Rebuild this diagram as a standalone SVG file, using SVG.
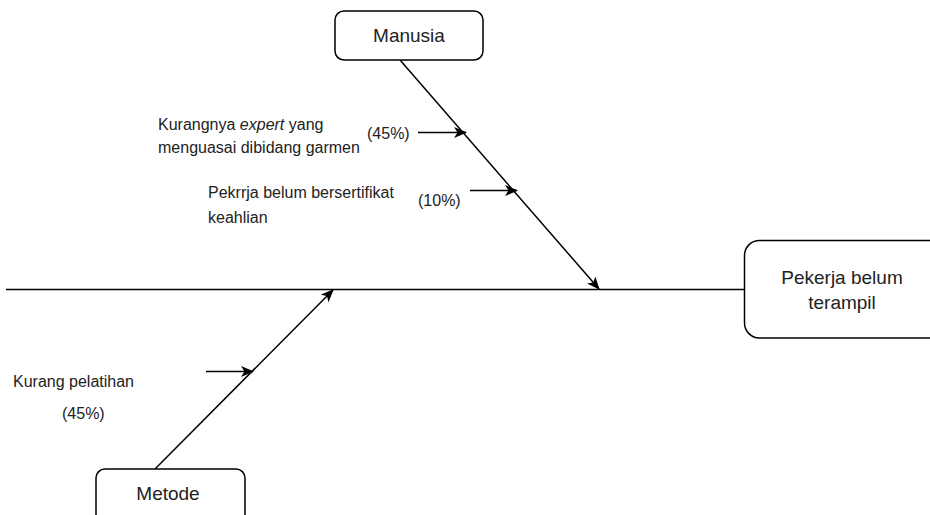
<svg xmlns="http://www.w3.org/2000/svg" width="930" height="515" viewBox="0 0 930 515">
  <defs>
    <marker id="arrow" viewBox="0 0 13 11" refX="12" refY="5.5" markerWidth="13" markerHeight="11" markerUnits="userSpaceOnUse" orient="auto">
      <path d="M0,0 L13,5.5 L0,11 L3.5,5.5 Z" fill="#000"/>
    </marker>
    <style>
      .box { fill: #fff; stroke: #000; stroke-width: 1.5; }
      .line { fill: none; stroke: #000; stroke-width: 1.5; }
      .arr { fill: none; stroke: #000; stroke-width: 1.5; marker-end: url(#arrow); }
      .big { font-family: "Liberation Sans", Arial, sans-serif; font-size: 19px; fill: #222; text-anchor: middle; }
      .small { font-family: "Liberation Sans", Arial, sans-serif; font-size: 16px; fill: #222; }
    </style>
  </defs>
  <rect width="930" height="515" fill="#fff"/>

  <g id="connectors">
    <!-- spine -->
    <line class="line" x1="6" y1="289.5" x2="745" y2="289.5"/>
    <!-- category bones -->
    <line class="arr" x1="400" y1="60" x2="599" y2="289"/>
    <line class="arr" x1="155" y1="469" x2="333" y2="290"/>
    <!-- cause arrows -->
    <line class="arr" x1="418" y1="132.5" x2="466" y2="132.5"/>
    <line class="arr" x1="470" y1="190.5" x2="517" y2="190.5"/>
    <line class="arr" x1="206" y1="371.5" x2="253" y2="371.5"/>
  </g>

  <g id="node-manusia">
    <rect class="box" x="335" y="11" width="148" height="49" rx="9"/>
    <text class="big" x="409" y="42">Manusia</text>
  </g>

  <g id="node-effect">
    <rect class="box" x="744.5" y="240.5" width="200" height="97.5" rx="15"/>
    <text class="big" x="842" y="284">Pekerja belum</text>
    <text class="big" x="842" y="309">terampil</text>
  </g>

  <g id="node-metode">
    <rect class="box" x="96" y="469" width="149" height="70" rx="9"/>
    <text class="big" x="168" y="500">Metode</text>
  </g>

  <g id="cause-expert">
    <text class="small" x="158" y="130">Kurangnya <tspan font-style="italic">expert</tspan> yang</text>
    <text class="small" x="158" y="153">menguasai dibidang garmen</text>
    <text class="small" x="367" y="139">(45%)</text>
  </g>

  <g id="cause-sertifikat">
    <text class="small" x="208" y="198">Pekrrja belum bersertifikat</text>
    <text class="small" x="208" y="223">keahlian</text>
    <text class="small" x="418" y="206">(10%)</text>
  </g>

  <g id="cause-pelatihan">
    <text class="small" x="13" y="387">Kurang pelatihan</text>
    <text class="small" x="62" y="419">(45%)</text>
  </g>
</svg>
